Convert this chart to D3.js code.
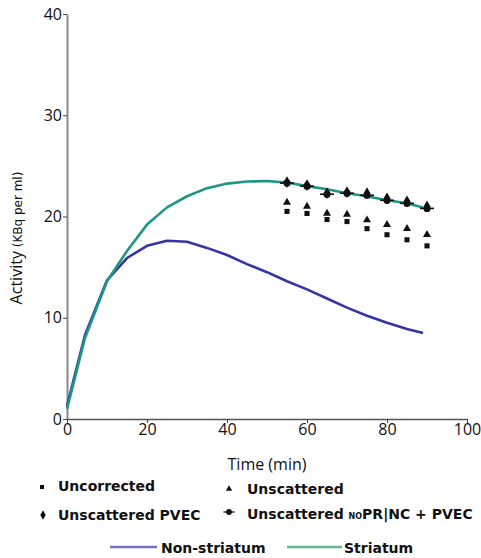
<!DOCTYPE html>
<html>

<head>
    <title>Activity</title>
    <script src="https://cdn.jsdelivr.net/npm/d3@7"></script>
    <style>
        body { margin: 0; background: #fff; }
        text { font-family: "Open Sans", sans-serif; }
        .leg { font-family: "DejaVu Sans", sans-serif; font-weight: bold; font-size: 14px; fill: #111; }
    </style>
</head>

<body>
    <svg width="481" height="558" id="mainsvg"></svg>
    <script>
        // curve sample times (min) and values (KBq per ml)
        const lineTimes = [0, 4.5, 10, 15, 20, 25, 30, 35, 40, 45, 50, 55, 60, 65, 70, 75, 80, 85, 89];
        const striatum = [1.0, 8.0, 13.6, 16.6, 19.2, 20.9, 22.0, 22.8, 23.25, 23.45, 23.5, 23.35, 23.0, 22.7, 22.3, 22.0, 21.6, 21.3, 20.9];
        const nonStriatum = [1.3, 8.3, 13.7, 15.9, 17.1, 17.6, 17.5, 16.9, 16.2, 15.3, 14.5, 13.6, 12.8, 11.9, 11.0, 10.2, 9.5, 8.9, 8.5];

        // measured frames
        const pointTimes = [55, 60, 65, 70, 75, 80, 85, 90];
        const uncorrected = [20.5, 20.3, 19.7, 19.5, 18.8, 18.2, 17.7, 17.1];
        const unscattered = [21.4, 21.0, 20.3, 20.2, 19.65, 19.2, 18.8, 18.2];
        const unscatteredPVEC = [23.4, 23.1, 22.3, 22.4, 22.3, 21.8, 21.5, 21.0];
        const unscatteredNoPR = [23.3, 23.0, 22.2, 22.3, 22.1, 21.6, 21.3, 20.8];

        const xTicks = [0, 20, 40, 60, 80, 100];
        const yTicks = [0, 10, 20, 30, 40];

        const svg = d3.select('svg');
        const margin = { top: 14, left: 67 };
        const innerWidth = 400;
        const innerHeight = 405;
        const g = svg.append('g').attr('transform', `translate(${margin.left}, ${margin.top})`);

        const x = d3.scaleLinear().domain([0, 100]).range([0, innerWidth]);
        const y = d3.scaleLinear().domain([0, 40]).range([innerHeight, 0]);

        // axes
        const yAxis = g.append('g').call(d3.axisLeft(y).tickValues(yTicks).tickSize(4).tickPadding(1).tickSizeOuter(0));
        yAxis.select('.domain').attr('stroke', '#8a8a8a').attr('stroke-width', 2);
        yAxis.selectAll('.tick line').attr('stroke', '#444');
        yAxis.selectAll('text').attr('font-size', 16).attr('fill', '#111').attr('font-family', 'Open Sans');

        const xAxis = g.append('g').attr('transform', `translate(0, ${innerHeight})`)
            .call(d3.axisBottom(x).tickValues(xTicks).tickSize(4).tickPadding(1).tickSizeOuter(0));
        xAxis.select('.domain').attr('stroke', '#555').attr('stroke-width', 1.5);
        xAxis.selectAll('.tick line').attr('stroke', '#444');
        xAxis.selectAll('text').attr('font-size', 16).attr('fill', '#111').attr('font-family', 'Open Sans');

        svg.append('text').attr('x', 267).attr('y', 470).attr('text-anchor', 'middle')
            .attr('font-size', 16).attr('fill', '#111').text('Time (min)');

        const yl = svg.append('text').attr('transform', 'translate(22, 238) rotate(-90)')
            .attr('text-anchor', 'middle').attr('fill', '#111');
        yl.append('tspan').attr('font-size', 16).text('Activity');
        yl.append('tspan').attr('font-size', 12).attr('font-family', 'DejaVu Sans').text(' (KBq per ml)');

        // curves
        const line = vals => d3.line().x((d, i) => x(lineTimes[i])).y(d => y(d))(vals);
        g.append('path').attr('d', line(nonStriatum)).attr('fill', 'none')
            .attr('stroke', '#3535a2').attr('stroke-width', 2.6).attr('stroke-linejoin', 'round');
        g.append('path').attr('d', line(striatum)).attr('fill', 'none')
            .attr('stroke', '#1f9587').attr('stroke-width', 2.6).attr('stroke-linejoin', 'round');

        // markers
        const sym = (type, size) => d3.symbol().type(type).size(size)();
        const drawMarker = (sel, kind) => {
            if (kind === 'square') sel.append('path').attr('d', sym(d3.symbolSquare, 26)).attr('fill', '#111');
            if (kind === 'triangle') sel.append('path').attr('d', sym(d3.symbolTriangle, 28)).attr('fill', '#111');
            if (kind === 'diamond') sel.append('path').attr('d', sym(d3.symbolDiamond, 40)).attr('fill', '#111');
            if (kind === 'cross') {
                sel.append('line').attr('x1', -7).attr('x2', 7).attr('stroke', '#111').attr('stroke-width', 1.6);
                sel.append('circle').attr('r', 3.6).attr('fill', '#111');
            }
        };
        const series = [
            [uncorrected, 'square'],
            [unscattered, 'triangle'],
            [unscatteredPVEC, 'diamond'],
            [unscatteredNoPR, 'cross']
        ];
        series.forEach(([vals, kind]) => {
            vals.forEach((v, i) => {
                const m = g.append('g').attr('transform', `translate(${x(pointTimes[i])}, ${y(v)})`);
                drawMarker(m, kind);
            });
        });

        // legend
        const leg = svg.append('g');
        const item = (mx, my, kind, tx, ty) => {
            drawMarker(leg.append('g').attr('transform', `translate(${mx}, ${my}) scale(0.8)`), kind);
            return leg.append('text').attr('class', 'leg').attr('x', tx).attr('y', ty);
        };
        item(42, 487, 'square', 58, 491).text('Uncorrected');
        item(229, 489, 'triangle', 247, 494).text('Unscattered');
        item(43, 515, 'diamond', 58, 520).text('Unscattered PVEC');
        const t4 = item(229, 512, 'cross', 247, 519);
        t4.append('tspan').text('Unscattered ');
        t4.append('tspan').attr('font-size', 8).text('NO');
        t4.append('tspan').text('PR|NC + PVEC');

        leg.append('line').attr('x1', 110).attr('x2', 157).attr('y1', 547).attr('y2', 547)
            .attr('stroke', '#7272c6').attr('stroke-width', 2.5);
        leg.append('text').attr('class', 'leg').attr('font-size', 15).attr('x', 161).attr('y', 553).text('Non-striatum');
        leg.append('line').attr('x1', 287).attr('x2', 342).attr('y1', 547).attr('y2', 547)
            .attr('stroke', '#62b98e').attr('stroke-width', 2.5);
        leg.append('text').attr('class', 'leg').attr('font-size', 15).attr('x', 344).attr('y', 553).text('Striatum');
    </script>
</body>

</html>
